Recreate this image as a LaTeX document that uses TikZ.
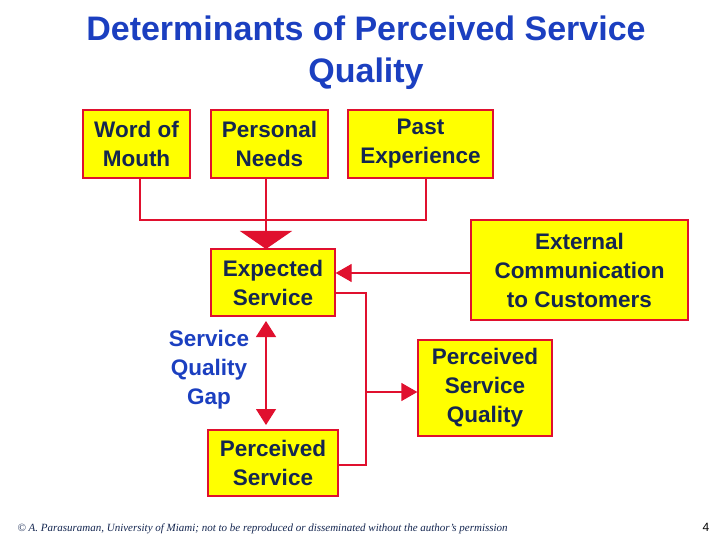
\documentclass[tikz,border=0pt]{standalone}
\usepackage{fontspec}
\setmainfont{Liberation Sans}
\newfontfamily\serifit{Liberation Serif}
\usetikzlibrary{arrows.meta}
\definecolor{bred}{HTML}{E0102E}
\definecolor{byel}{HTML}{FFFF00}
\definecolor{navy}{HTML}{142650}
\definecolor{tblue}{HTML}{1B3FC0}
\begin{document}
\begin{tikzpicture}[x=1pt,y=-1pt,
  box/.style={draw=bred,line width=1.3pt,fill=byel,text=navy,font=\bfseries\fontsize{22.5}{29}\selectfont,align=center,inner sep=0pt},
  ln/.style={draw=bred,line width=1.3pt},
  tip/.style={-{Triangle[length=16pt,width=18pt]}},
  bigtip/.style={-{Triangle[length=18pt,width=52pt]}}]
\useasboundingbox (0,0) rectangle (720,540);
\node[text=tblue,font=\bfseries\fontsize{34}{42}\selectfont,align=center] (title) at (366,53) {Determinants of Perceived Service\\Quality};
\node[box,minimum width=107pt,minimum height=68pt] (wom) at (136.5,144) {Word of\\Mouth};
\node[box,minimum width=117pt,minimum height=68pt] (pn) at (269.5,144) {Personal\\Needs};
\node[box,minimum width=145pt,minimum height=68pt] (pe) at (420.5,144) {Past\\Experience};
\node[box,minimum width=124pt,minimum height=67pt] (es) at (273,282.5) {Expected\\Service};
\node[box,minimum width=217pt,minimum height=100pt] (ec) at (579.5,270) {External\\Communication\\to Customers};
\node[box,minimum width=134pt,minimum height=96pt] (psq) at (485,388) {Perceived\\Service\\Quality};
\node[box,minimum width=130pt,minimum height=66pt] (ps) at (273,463) {Perceived\\Service};
\node[text=tblue,font=\bfseries\fontsize{22.5}{29}\selectfont,align=center] (gap) at (209,370) {Service\\Quality\\Gap};
\coordinate (j) at (266,220);
\draw[ln] (wom.south -| 140,0) -- (140,220) -- (426,220) -- (pe.south -| 426,0);
\draw[ln] (pn.south -| 266,0) -- (j);
\draw[ln,bigtip] (j) -- (266,249);
\draw[ln,tip] (ec.west |- 0,273) -- (es.east |- 0,273);
\coordinate (r1) at (366,293);
\coordinate (r2) at (366,465);
\draw[ln] (es.east |- r1) -- (r1) -- (r2) -- (ps.east |- r2);
\draw[ln,tip] (366,392) -- (psq.west |- 0,392);
\draw[ln,{Triangle[length=16pt,width=20pt]}-{Triangle[length=16pt,width=20pt]}] (266,321) -- (266,425);
\node[anchor=west,font=\serifit\itshape\fontsize{11}{12}\selectfont,text=navy] (foot) at (14,529) {© A. Parasuraman, University of Miami; not to be reproduced or disseminated without the author’s permission};
\node[font=\fontsize{12}{13}\selectfont] (pg) at (706,527) {4};
\end{tikzpicture}
\end{document}
